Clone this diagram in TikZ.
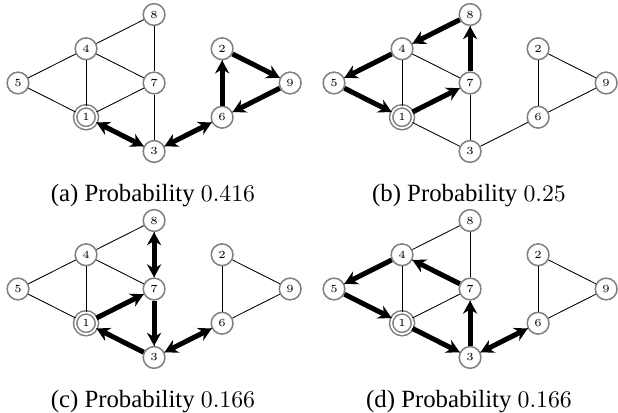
\documentclass[tikz,border=0pt]{standalone}
\usepackage[no-math]{fontspec}
\setmainfont{Liberation Serif}
\usetikzlibrary{arrows.meta,positioning}

\begin{document}
\begin{tikzpicture}[x=0.46pt,y=-0.46pt,on grid,node distance=15.75pt and 31.3pt,
  >={Stealth[length=6pt,width=6.5pt]},
  st/.style={circle,draw=gray,line width=0.7pt,fill=white,minimum size=10pt,inner sep=0pt,font=\fontsize{5}{6}\selectfont},
  start/.style={st,double,double distance=0.8pt},
  walk/.style={line width=2.3pt},
  subcap/.style={font=\fontsize{11.4}{13}\selectfont}]
\useasboundingbox (0,0) rectangle (618,413);
\foreach \p/\x/\y/\val in {a/0/0/0.416,b/316/0/0.25,c/0/206/0.166,d/316/206/0.166}{
\node[st] (\p5) at (\x+18,\y+83) {$5$};
\node[st] (\p4) [above right=of \p5] {$4$};
\node[start] (\p1) [below right=of \p5] {$1$};
\node[st] (\p7) [below right=of \p4] {$7$};
\node[st] (\p8) [above right=of \p4] {$8$};
\node[st] (\p3) [below right=of \p1] {$3$};
\node[st] (\p2) [above right=of \p7] {$2$};
\node[st] (\p6) [below right=of \p7] {$6$};
\node[st] (\p9) [below right=of \p2] {$9$};
\draw (\p4) edge (\p8) edge (\p5) edge (\p1) edge (\p7);
\draw (\p7) edge (\p8) edge (\p1) edge (\p3);
\draw (\p1) edge (\p5) edge (\p3);
\draw (\p6) edge (\p3) edge (\p2) edge (\p9);
\draw (\p2) edge (\p9);
\node[subcap] (\p cap) at (\x+153,\y+196) {(\p) Probability $\val$};
}
\draw[walk,<->] (a1) edge (a3) (a3) edge (a6);
\draw[walk,->] (a6) edge (a2) (a2) edge (a9) (a9) edge (a6);
\draw[walk,->] (b7) edge (b8) (b8) edge (b4) (b4) edge (b5) (b5) edge (b1) (b1) edge (b7);
\draw[walk,<->] (c8) edge (c7) (c3) edge (c6);
\draw[walk,->] (c1) edge (c7) (c7) edge (c3) (c3) edge (c1);
\draw[walk,->] (d1) edge (d3) (d3) edge (d7) (d7) edge (d4) (d4) edge (d5) (d5) edge (d1);
\draw[walk,<->] (d3) edge (d6);
\end{tikzpicture}
\end{document}
